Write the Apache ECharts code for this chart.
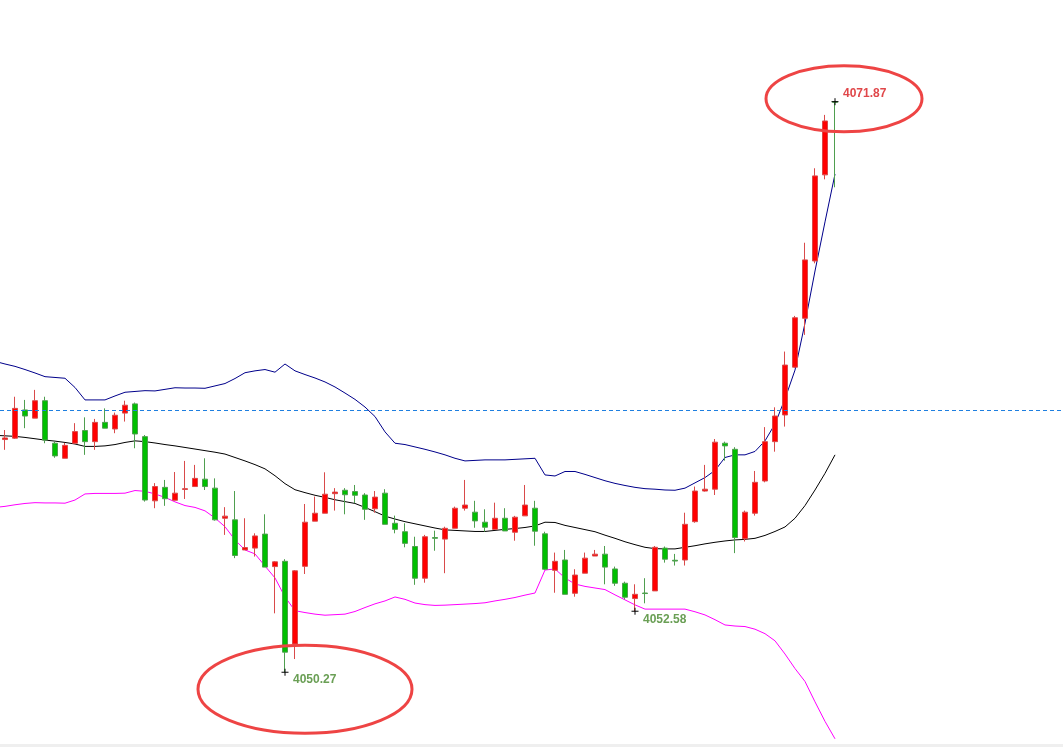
<!DOCTYPE html>
<html>
<head>
<meta charset="utf-8">
<script src="https://cdn.jsdelivr.net/npm/echarts@6/dist/echarts.min.js"></script>
<style>
  html, body { margin: 0; padding: 0; background: #fff; }
  #main { width: 1063px; height: 747px; }
</style>
</head>
<body>
<div id="main"></div>
<script>
// candle values, one per bar (index 0..83)
var opens = [
  4059.08, 4059.13, 4060.20, 4059.89, 4060.55, 4058.94, 4058.37, 4058.94, 4059.42, 4059.00,
  4059.73, 4059.48, 4060.08, 4060.43, 4059.19, 4056.76, 4057.27, 4056.78, 4057.19, 4057.30,
  4057.58, 4057.24, 4056.10, 4056.04, 4054.90, 4054.97, 4055.50, 4054.27, 4054.47, 4051.34,
  4054.28, 4055.99, 4056.29, 4057.03, 4057.16, 4057.11, 4056.98, 4056.46, 4057.05, 4055.91,
  4055.59, 4055.03, 4053.83, 4055.37, 4055.31, 4055.72, 4056.48, 4056.33, 4055.95, 4055.68,
  4056.10, 4055.57, 4056.19, 4056.48, 4055.51, 4054.13, 4054.52, 4053.26, 4054.02, 4054.67,
  4054.74, 4054.18, 4053.64, 4053.06, 4053.27, 4053.35, 4054.97, 4054.51, 4054.52, 4055.97,
  4057.13, 4057.20, 4058.94, 4058.71, 4055.32, 4056.29, 4057.51, 4059.00, 4060.01, 4061.82,
  4063.67, 4065.84, 4069.10, 4071.87
];
var closes = [
  4059.14, 4060.26, 4059.97, 4060.55, 4059.06, 4058.46, 4058.86, 4059.38, 4059.00, 4059.73,
  4059.51, 4060.00, 4060.38, 4059.29, 4056.79, 4057.30, 4056.84, 4057.05, 4057.22, 4057.61,
  4057.30, 4056.04, 4056.18, 4054.69, 4054.99, 4055.43, 4054.25, 4054.45, 4051.03, 4054.11,
  4055.95, 4056.29, 4057.01, 4057.09, 4056.99, 4056.97, 4056.44, 4056.90, 4055.87, 4055.68,
  4055.15, 4053.83, 4055.40, 4055.34, 4055.72, 4056.48, 4056.60, 4056.00, 4055.76, 4056.10,
  4055.62, 4056.14, 4056.60, 4055.61, 4054.17, 4054.47, 4053.22, 4053.95, 4054.59, 4054.74,
  4054.25, 4053.64, 4053.11, 4053.22, 4053.25, 4055.00, 4054.55, 4054.48, 4055.87, 4057.13,
  4057.20, 4058.98, 4058.84, 4055.37, 4056.33, 4057.46, 4059.00, 4059.97, 4061.90, 4063.69,
  4065.88, 4069.06, 4071.14, 4071.85
];
var lows = [
  4058.69, 4059.10, 4059.51, 4059.89, 4058.94, 4058.39, 4058.37, 4058.94, 4058.50, 4058.69,
  4059.51, 4059.32, 4059.76, 4058.75, 4056.73, 4056.48, 4056.57, 4056.78, 4056.83, 4057.30,
  4057.17, 4056.01, 4055.47, 4054.59, 4054.90, 4054.65, 4054.25, 4052.50, 4050.27, 4050.77,
  4053.99, 4055.99, 4056.29, 4056.39, 4056.25, 4056.67, 4056.04, 4056.31, 4055.87, 4055.53,
  4055.00, 4053.58, 4053.66, 4054.87, 4054.02, 4055.72, 4056.39, 4055.74, 4055.59, 4055.68,
  4055.62, 4055.25, 4056.19, 4055.06, 4054.14, 4053.28, 4053.22, 4053.13, 4054.02, 4054.67,
  4053.60, 4053.54, 4053.03, 4052.58, 4052.88, 4053.35, 4054.42, 4054.31, 4054.31, 4055.93,
  4057.11, 4056.98, 4058.28, 4054.78, 4055.22, 4056.20, 4057.46, 4058.62, 4059.57, 4061.79,
  4063.04, 4065.75, 4068.93, 4068.63
];
var highs = [
  4059.44, 4060.70, 4060.58, 4060.96, 4060.70, 4059.00, 4058.95, 4059.70, 4059.92, 4059.86,
  4060.26, 4060.10, 4060.55, 4060.48, 4059.25, 4057.43, 4057.55, 4057.85, 4058.27, 4058.12,
  4058.37, 4057.61, 4056.52, 4057.13, 4056.10, 4055.53, 4056.25, 4054.48, 4054.55, 4054.14,
  4056.64, 4056.92, 4057.84, 4057.24, 4057.24, 4057.36, 4057.05, 4057.13, 4057.20, 4056.20,
  4055.91, 4055.40, 4055.47, 4055.63, 4055.78, 4056.54, 4057.55, 4056.76, 4056.44, 4056.69,
  4056.48, 4056.19, 4057.36, 4056.76, 4055.59, 4054.80, 4054.90, 4054.17, 4054.80, 4054.90,
  4055.05, 4054.27, 4053.70, 4053.60, 4053.83, 4055.05, 4055.03, 4054.75, 4056.31, 4057.30,
  4058.12, 4059.10, 4059.00, 4058.79, 4056.39, 4057.89, 4059.55, 4060.30, 4062.41, 4063.76,
  4066.53, 4069.35, 4071.37, 4071.87
];

// bollinger bands, first value sits at the left edge, then one per bar
var upper = [
  4061.99,
  4061.94, 4061.85, 4061.73, 4061.60, 4061.46, 4061.43, 4061.40, 4061.05, 4060.58, 4060.58,
  4060.58, 4060.73, 4060.87, 4060.90, 4060.93, 4060.92, 4060.98, 4061.04, 4061.03, 4061.03,
  4061.02, 4061.11, 4061.20, 4061.39, 4061.61, 4061.68, 4061.73, 4061.63, 4061.94, 4061.68,
  4061.54, 4061.41, 4061.26, 4061.07, 4060.84, 4060.60, 4060.31, 4059.95, 4059.37, 4058.94,
  4058.89, 4058.80, 4058.71, 4058.61, 4058.50, 4058.37, 4058.27, 4058.29, 4058.31, 4058.31,
  4058.31, 4058.33, 4058.35, 4058.37, 4057.74, 4057.70, 4057.87, 4057.87, 4057.76, 4057.64,
  4057.52, 4057.42, 4057.34, 4057.27, 4057.22, 4057.20, 4057.17, 4057.16, 4057.24, 4057.44,
  4057.64, 4057.91, 4058.40, 4058.50, 4058.50, 4058.63, 4059.03, 4059.67, 4060.62, 4061.71,
  4063.49, 4065.46, 4067.32, 4069.13
];
var middle = [
  4059.23,
  4059.22, 4059.20, 4059.16, 4059.11, 4059.06, 4059.02, 4058.97, 4058.91, 4058.82, 4058.82,
  4058.84, 4058.89, 4058.97, 4059.03, 4059.00, 4058.95, 4058.89, 4058.84, 4058.78, 4058.72,
  4058.66, 4058.60, 4058.53, 4058.40, 4058.27, 4058.13, 4057.97, 4057.71, 4057.41, 4057.18,
  4057.07, 4056.97, 4056.89, 4056.80, 4056.73, 4056.66, 4056.51, 4056.35, 4056.18, 4056.07,
  4055.97, 4055.89, 4055.81, 4055.73, 4055.66, 4055.64, 4055.62, 4055.60, 4055.60, 4055.64,
  4055.68, 4055.71, 4055.75, 4055.81, 4055.95, 4055.94, 4055.83, 4055.75, 4055.67, 4055.59,
  4055.46, 4055.34, 4055.21, 4055.10, 4055.00, 4054.95, 4054.94, 4054.94, 4055.00, 4055.06,
  4055.13, 4055.19, 4055.24, 4055.28, 4055.30, 4055.34, 4055.45, 4055.60, 4055.77, 4056.10,
  4056.58, 4057.17, 4057.80, 4058.50
];
var lower = [
  4056.53,
  4056.55, 4056.61, 4056.66, 4056.69, 4056.68, 4056.68, 4056.67, 4056.79, 4057.02, 4057.04,
  4057.04, 4057.04, 4057.05, 4057.15, 4057.12, 4057.02, 4056.89, 4056.72, 4056.58, 4056.51,
  4056.38, 4056.11, 4055.78, 4055.28, 4054.90, 4054.75, 4054.29, 4053.84, 4053.12, 4052.60,
  4052.53, 4052.47, 4052.43, 4052.45, 4052.47, 4052.57, 4052.72, 4052.86, 4052.97, 4053.12,
  4053.03, 4052.89, 4052.83, 4052.80, 4052.81, 4052.83, 4052.85, 4052.87, 4052.90, 4052.97,
  4053.03, 4053.10, 4053.19, 4053.27, 4054.14, 4054.18, 4053.84, 4053.61, 4053.52, 4053.46,
  4053.40, 4053.20, 4053.01, 4052.82, 4052.66, 4052.66, 4052.66, 4052.66, 4052.66, 4052.56,
  4052.44, 4052.26, 4052.06, 4052.02, 4052.00, 4051.90, 4051.73, 4051.46, 4050.96, 4050.41,
  4049.92, 4049.15, 4048.41, 4047.75
];

// reference level and annotated extremes
var dashLevel = 4060.17;
var markIdx = [83, 28, 63];
var markPrice = [4071.87, 4050.27, 4052.58];

var myChart = echarts.init(document.getElementById('main'));

var candleData = opens.map(function (o, i) {
  return [i, o, closes[i], lows[i], highs[i]];
});
function bandData(values) {
  return values.map(function (v, i) { return [i === 0 ? -0.5 : i - 1, v]; });
}

var labelColors = ['#E0474A', '#6A9F55', '#6A9F55'];
var labelOffsets = [[0, -8], [0, 7], [0, 8]];
var points = markIdx.map(function (k, i) {
  return {
    coord: [k, markPrice[i]],
    value: markPrice[i].toFixed(2),
    label: { color: labelColors[i], offset: labelOffsets[i] }
  };
});

var option = {
  animation: false,
  backgroundColor: '#fff',
  grid: { left: 0, right: 0, top: 0, bottom: 0 },
  xAxis: {
    type: 'value',
    min: -0.5,
    max: 105.8,
    show: false
  },
  yAxis: {
    type: 'value',
    min: 4047.44,
    max: 4075.72,
    show: false
  },
  series: [
    {
      name: 'upper',
      type: 'line',
      data: bandData(upper),
      symbol: 'none',
      lineStyle: { color: '#00008B', width: 1 },
      z: 1
    },
    {
      name: 'middle',
      type: 'line',
      data: bandData(middle),
      symbol: 'none',
      lineStyle: { color: '#000', width: 1 },
      z: 1
    },
    {
      name: 'lower',
      type: 'line',
      data: bandData(lower),
      symbol: 'none',
      lineStyle: { color: '#FF00FF', width: 1 },
      z: 1
    },
    {
      name: 'price',
      type: 'candlestick',
      data: candleData,
      encode: { x: 0, y: [1, 2, 3, 4] },
      barWidth: 6,
      itemStyle: {
        color: '#FF0000',
        color0: '#00BF00',
        borderColor: '#D94A4A',
        borderColor0: '#4F9F4F',
        borderWidth: 1
      },
      z: 2,
      markLine: {
        silent: true,
        symbol: 'none',
        label: { show: false },
        lineStyle: { color: '#1E7FE0', type: [4, 3], width: 1 },
        data: [{ yAxis: dashLevel }]
      },
      markPoint: {
        symbol: 'path://M0,5H10M5,0V10',
        symbolSize: 7,
        itemStyle: { color: 'none', borderColor: '#000', borderWidth: 1 },
        label: {
          show: true,
          position: 'right',
          distance: 2,
          fontFamily: 'Liberation Sans',
          fontWeight: 'bold',
          fontSize: 12,
          formatter: '{c}'
        },
        data: points
      }
    }
  ]
};

myChart.setOption(option);

// red circles round the two extremes
var hi = myChart.convertToPixel({ gridIndex: 0 }, [markIdx[0], markPrice[0]]);
var lo = myChart.convertToPixel({ gridIndex: 0 }, [markIdx[1], markPrice[1]]);
myChart.setOption({
  graphic: [
    {
      type: 'ellipse',
      shape: { cx: hi[0] + 9, cy: hi[1] - 3, rx: 78, ry: 33 },
      style: { fill: 'none', stroke: '#EE4444', lineWidth: 3 },
      z: 10
    },
    {
      type: 'ellipse',
      shape: { cx: lo[0] + 20, cy: lo[1] + 17, rx: 107, ry: 44 },
      style: { fill: 'none', stroke: '#EE4444', lineWidth: 3 },
      z: 10
    },
    {
      type: 'rect',
      left: 0,
      bottom: 0,
      shape: { width: 1063, height: 3 },
      style: { fill: '#EFEFEF' },
      z: 0
    }
  ]
});
</script>
</body>
</html>
